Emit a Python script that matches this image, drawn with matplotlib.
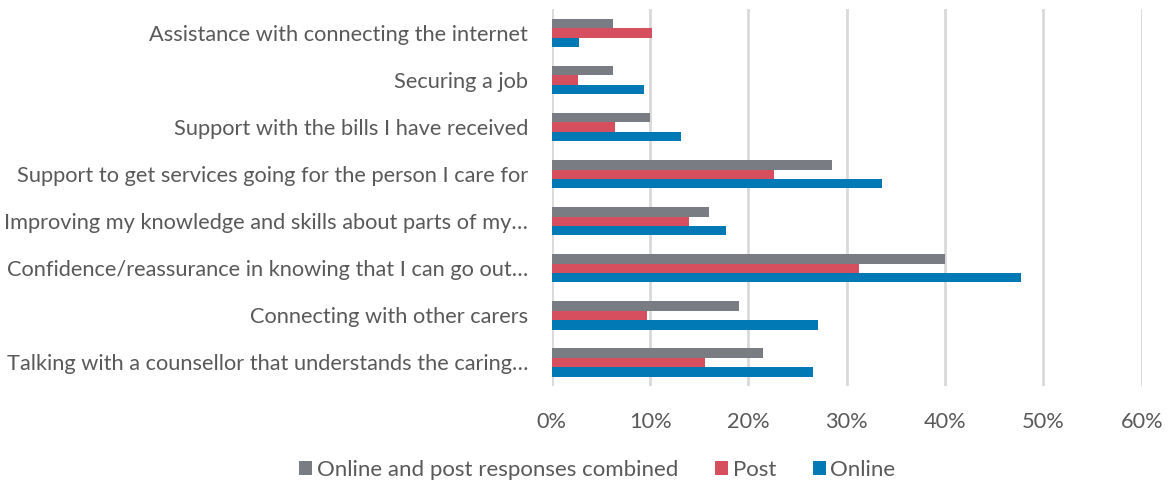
import numpy as np
import matplotlib.pyplot as plt
from matplotlib.ticker import FuncFormatter

categories = [
    "Assistance with connecting the internet",
    "Securing a job",
    "Support with the bills I have received",
    "Support to get services going for the person I care for",
    "Improving my knowledge and skills about parts of my\u2026",
    "Confidence/reassurance in knowing that I can go out\u2026",
    "Connecting with other carers",
    "Talking with a counsellor that understands the caring\u2026",
]
combined = [6.2, 6.2, 10.0, 28.5, 16.0, 40.0, 19.0, 21.5]
post = [10.2, 2.7, 6.4, 22.6, 13.95, 31.2, 9.65, 15.6]
online = [2.8, 9.35, 13.1, 33.6, 17.7, 47.7, 27.1, 26.6]

series = [
    ("Online and post responses combined", combined, "#7a7c84"),
    ("Post", post, "#d64f5e"),
    ("Online", online, "#0079b5"),
]

plt.rcParams['font.family'] = ['Lato', 'DejaVu Sans']
text_colour = '#595959'

fig = plt.figure(figsize=(11.71, 4.84), dpi=100)
ax = fig.add_axes([0.4712, 0.2025, 0.5038, 0.7779])

y = np.arange(len(categories))
h = 0.2
for i, (name, vals, colour) in enumerate(series):
    ax.barh(y + (i - 1) * h, vals, height=h, color=colour, label=name, zorder=3)

ax.set_ylim(len(categories) - 0.5, -0.5)
ax.set_xlim(0, 60)
ax.set_xticks(range(0, 61, 10))
ax.xaxis.set_major_formatter(FuncFormatter(lambda v, p: "{:.0f}%".format(v)))
ax.set_yticks(y)
ax.set_yticklabels(categories)
ax.grid(axis='x', color='#d9d9d9', linewidth=2, zorder=0)
for s in ax.spines.values():
    s.set_visible(False)
ax.tick_params(axis='both', length=0, labelsize=15.7, labelcolor=text_colour)
ax.tick_params(axis='y', pad=17)
ax.tick_params(axis='x', pad=19)

fig.legend(loc='center', bbox_to_anchor=(0.510, 0.029), ncol=3, frameon=False,
           fontsize=16, labelcolor=text_colour, handlelength=0.6, handleheight=0.6,
           handletextpad=0.2, columnspacing=1.65)

fig.savefig("out.png", dpi=100)
